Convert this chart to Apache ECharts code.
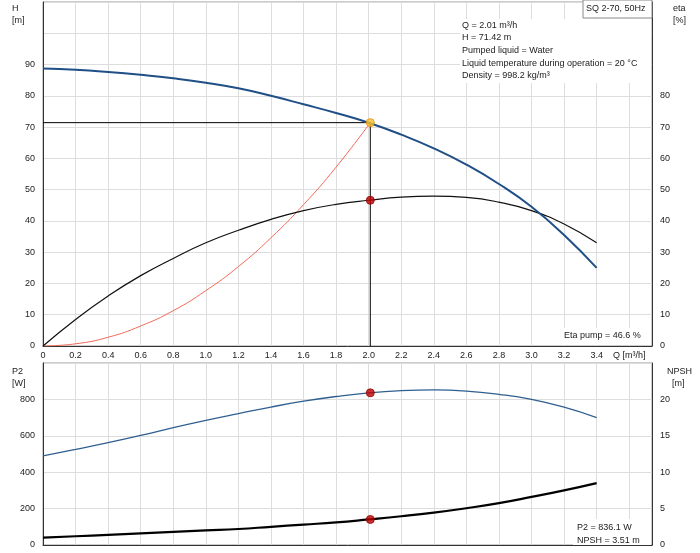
<!DOCTYPE html>
<html>
<head>
<meta charset="utf-8">
<script src="https://cdn.jsdelivr.net/npm/echarts@6/dist/echarts.min.js"></script>
<style>html,body{margin:0;padding:0;background:#fff}#chart{width:700px;height:553px}</style>
</head>
<body>
<div id="chart"></div>
<script>
var qTicks = [0, 0.2, 0.4, 0.6, 0.8, 1.0, 1.2, 1.4, 1.6, 1.8, 2.0, 2.2, 2.4, 2.6, 2.8, 3.0, 3.2, 3.4];
var head = [88.7, 88.3, 87.6, 86.7, 85.6, 84.2, 82.4, 80.0, 77.3, 74.5, 71.4, 67.6, 63.2, 58.0, 51.8, 44.5, 35.5, 25.0];
var eta = [0, 8.5, 16, 22.5, 28, 33, 37, 40.5, 43.3, 45.3, 46.6, 47.6, 47.9, 47.5, 46.0, 43.3, 39.0, 33.0];
var sysQ = [0, 0.2, 0.4, 0.6, 0.8, 1.0, 1.2, 1.4, 1.6, 1.8, 2.01];
var sysH = [0, 0.7, 2.8, 6.4, 11.3, 17.7, 25.4, 34.6, 45.2, 57.2, 71.42];
var p2 = [490, 525, 562, 602, 645, 685, 722, 758, 790, 816, 836, 848, 852, 846, 828, 800, 757, 700];
var npsh = [1.0, 1.2, 1.4, 1.6, 1.8, 2.0, 2.2, 2.5, 2.8, 3.1, 3.51, 3.95, 4.45, 5.05, 5.75, 6.6, 7.5, 8.5];
var duty = {q: 2.01, h: 71.42, eta: 46.6, p2: 836.1, npsh: 3.51};

function pairs(xs, ys) { return xs.map(function (x, i) { return [x, ys[i]]; }); }

var font = 'Liberation Sans, Arial, sans-serif';
var lbl = {color: '#222', fontSize: 9, fontFamily: font};
var split = {show: true, lineStyle: {color: '#ddd', width: 1}};

function xAx(idx, showLabels) {
  return {
    type: 'value', gridIndex: idx, min: 0, max: 3.74, interval: 0.2,
    axisLine: {show: true, onZero: false, lineStyle: {color: '#333'}},
    axisTick: {show: false},
    splitLine: split,
    axisLabel: Object.assign({show: showLabels, margin: 5, showMaxLabel: false,
      formatter: function (v) {
        if (v > 3.41) return v < 3.7 ? 'Q [m³/h]' : '';
        return v === 0 ? '0' : v.toFixed(1);
      }}, lbl)
  };
}
function yAx(idx, max, interval, labelMax, pos, step) {
  return {
    type: 'value', gridIndex: idx, min: 0, max: max, interval: interval, position: pos,
    axisLine: {show: true, lineStyle: {color: '#333'}},
    axisTick: {show: false},
    splitLine: pos === 'left' ? split : {show: false},
    axisLabel: Object.assign({margin: 8, showMaxLabel: false,
      formatter: function (v) { return (v <= labelMax && v % step === 0) ? String(v) : ''; }}, lbl)
  };
}

var red = {color: '#c00000', borderColor: '#900000', borderWidth: 1};
var chart = echarts.init(document.getElementById('chart'));
chart.setOption({
  animation: false,
  grid: [
    {left: 43, right: 48, top: 2, bottom: 207, show: true, borderColor: '#999'},
    {left: 43, right: 48, top: 363, bottom: 8, show: true, borderColor: '#999'}
  ],
  xAxis: [xAx(0, true), xAx(1, false)],
  yAxis: [
    yAx(0, 110, 10, 90, 'left', 10),
    yAx(0, 110, 10, 80, 'right', 10),
    yAx(1, 1000, 200, 800, 'left', 200),
    yAx(1, 25, 5, 20, 'right', 5)
  ],
  series: [
    {type: 'line', xAxisIndex: 0, yAxisIndex: 0, data: [[0, duty.h], [duty.q, duty.h], [duty.q, 0]],
      symbol: 'none', lineStyle: {color: '#000', width: 1}},
    {type: 'line', xAxisIndex: 0, yAxisIndex: 0, data: pairs(sysQ, sysH), smooth: true,
      symbol: 'none', lineStyle: {color: '#f06a5a', width: 1}},
    {type: 'line', xAxisIndex: 0, yAxisIndex: 1, data: pairs(qTicks, eta), smooth: true,
      symbol: 'none', lineStyle: {color: '#111', width: 1.2}},
    {type: 'line', xAxisIndex: 0, yAxisIndex: 0, data: pairs(qTicks, head), smooth: true,
      symbol: 'none', lineStyle: {color: '#1f4f86', width: 2}},
    {type: 'scatter', xAxisIndex: 0, yAxisIndex: 0, data: [[duty.q, duty.h]], symbolSize: 8, z: 5,
      itemStyle: {color: '#f7c22c', borderColor: '#e08a00', borderWidth: 1}},
    {type: 'scatter', xAxisIndex: 0, yAxisIndex: 1, data: [[duty.q, duty.eta]], symbolSize: 8, z: 5, itemStyle: red},
    {type: 'line', xAxisIndex: 1, yAxisIndex: 2, data: pairs(qTicks, p2), smooth: true,
      symbol: 'none', lineStyle: {color: '#2f5f90', width: 1.3}},
    {type: 'line', xAxisIndex: 1, yAxisIndex: 3, data: pairs(qTicks, npsh), smooth: true,
      symbol: 'none', lineStyle: {color: '#000', width: 2.2}},
    {type: 'scatter', xAxisIndex: 1, yAxisIndex: 2, data: [[duty.q, duty.p2]], symbolSize: 8, z: 5, itemStyle: red},
    {type: 'scatter', xAxisIndex: 1, yAxisIndex: 3, data: [[duty.q, duty.npsh]], symbolSize: 8, z: 5, itemStyle: red}
  ],
  graphic: [
    {type: 'text', left: 12, top: 3, z: 100, style: {text: 'H\n[m]', font: '9px ' + font, fill: '#222', lineHeight: 12}},
    {type: 'text', right: 14, top: 3, z: 100, style: {text: 'eta\n[%]', font: '9px ' + font, fill: '#222', lineHeight: 12}},
    {type: 'text', left: 12, top: 366, z: 100, style: {text: 'P2\n[W]', font: '9px ' + font, fill: '#222', lineHeight: 12}},
    {type: 'text', right: 8, top: 366, z: 100, style: {text: 'NPSH\n  [m]', font: '9px ' + font, fill: '#222', lineHeight: 12}},
    {type: 'rect', z: 100, shape: {x: 583, y: 0, width: 69, height: 18}, style: {fill: '#fff', stroke: '#888'}},
    {type: 'text', z: 101, left: 586, top: 4, style: {text: 'SQ 2-70, 50Hz', font: '9px ' + font, fill: '#222'}},
    {type: 'rect', z: 100, shape: {x: 460, y: 19, width: 191, height: 64}, style: {fill: '#fff'}},
    {type: 'text', z: 101, left: 462, top: 19, style: {
      text: 'Q = 2.01 m³/h\nH = 71.42 m\nPumped liquid = Water\nLiquid temperature during operation = 20 °C\nDensity = 998.2 kg/m³',
      font: '9px ' + font, fill: '#222', lineHeight: 12.6}},
    {type: 'rect', z: 100, shape: {x: 561, y: 328, width: 90, height: 17}, style: {fill: '#fff'}},
    {type: 'text', z: 101, left: 564, top: 331, style: {text: 'Eta pump = 46.6 %', font: '9px ' + font, fill: '#222'}},
    {type: 'rect', z: 100, shape: {x: 573, y: 519, width: 78, height: 26}, style: {fill: '#fff'}},
    {type: 'text', z: 101, left: 577, top: 521, style: {text: 'P2 = 836.1 W\nNPSH = 3.51 m', font: '9px ' + font, fill: '#222', lineHeight: 13}}
  ]
});
</script>
</body>
</html>
